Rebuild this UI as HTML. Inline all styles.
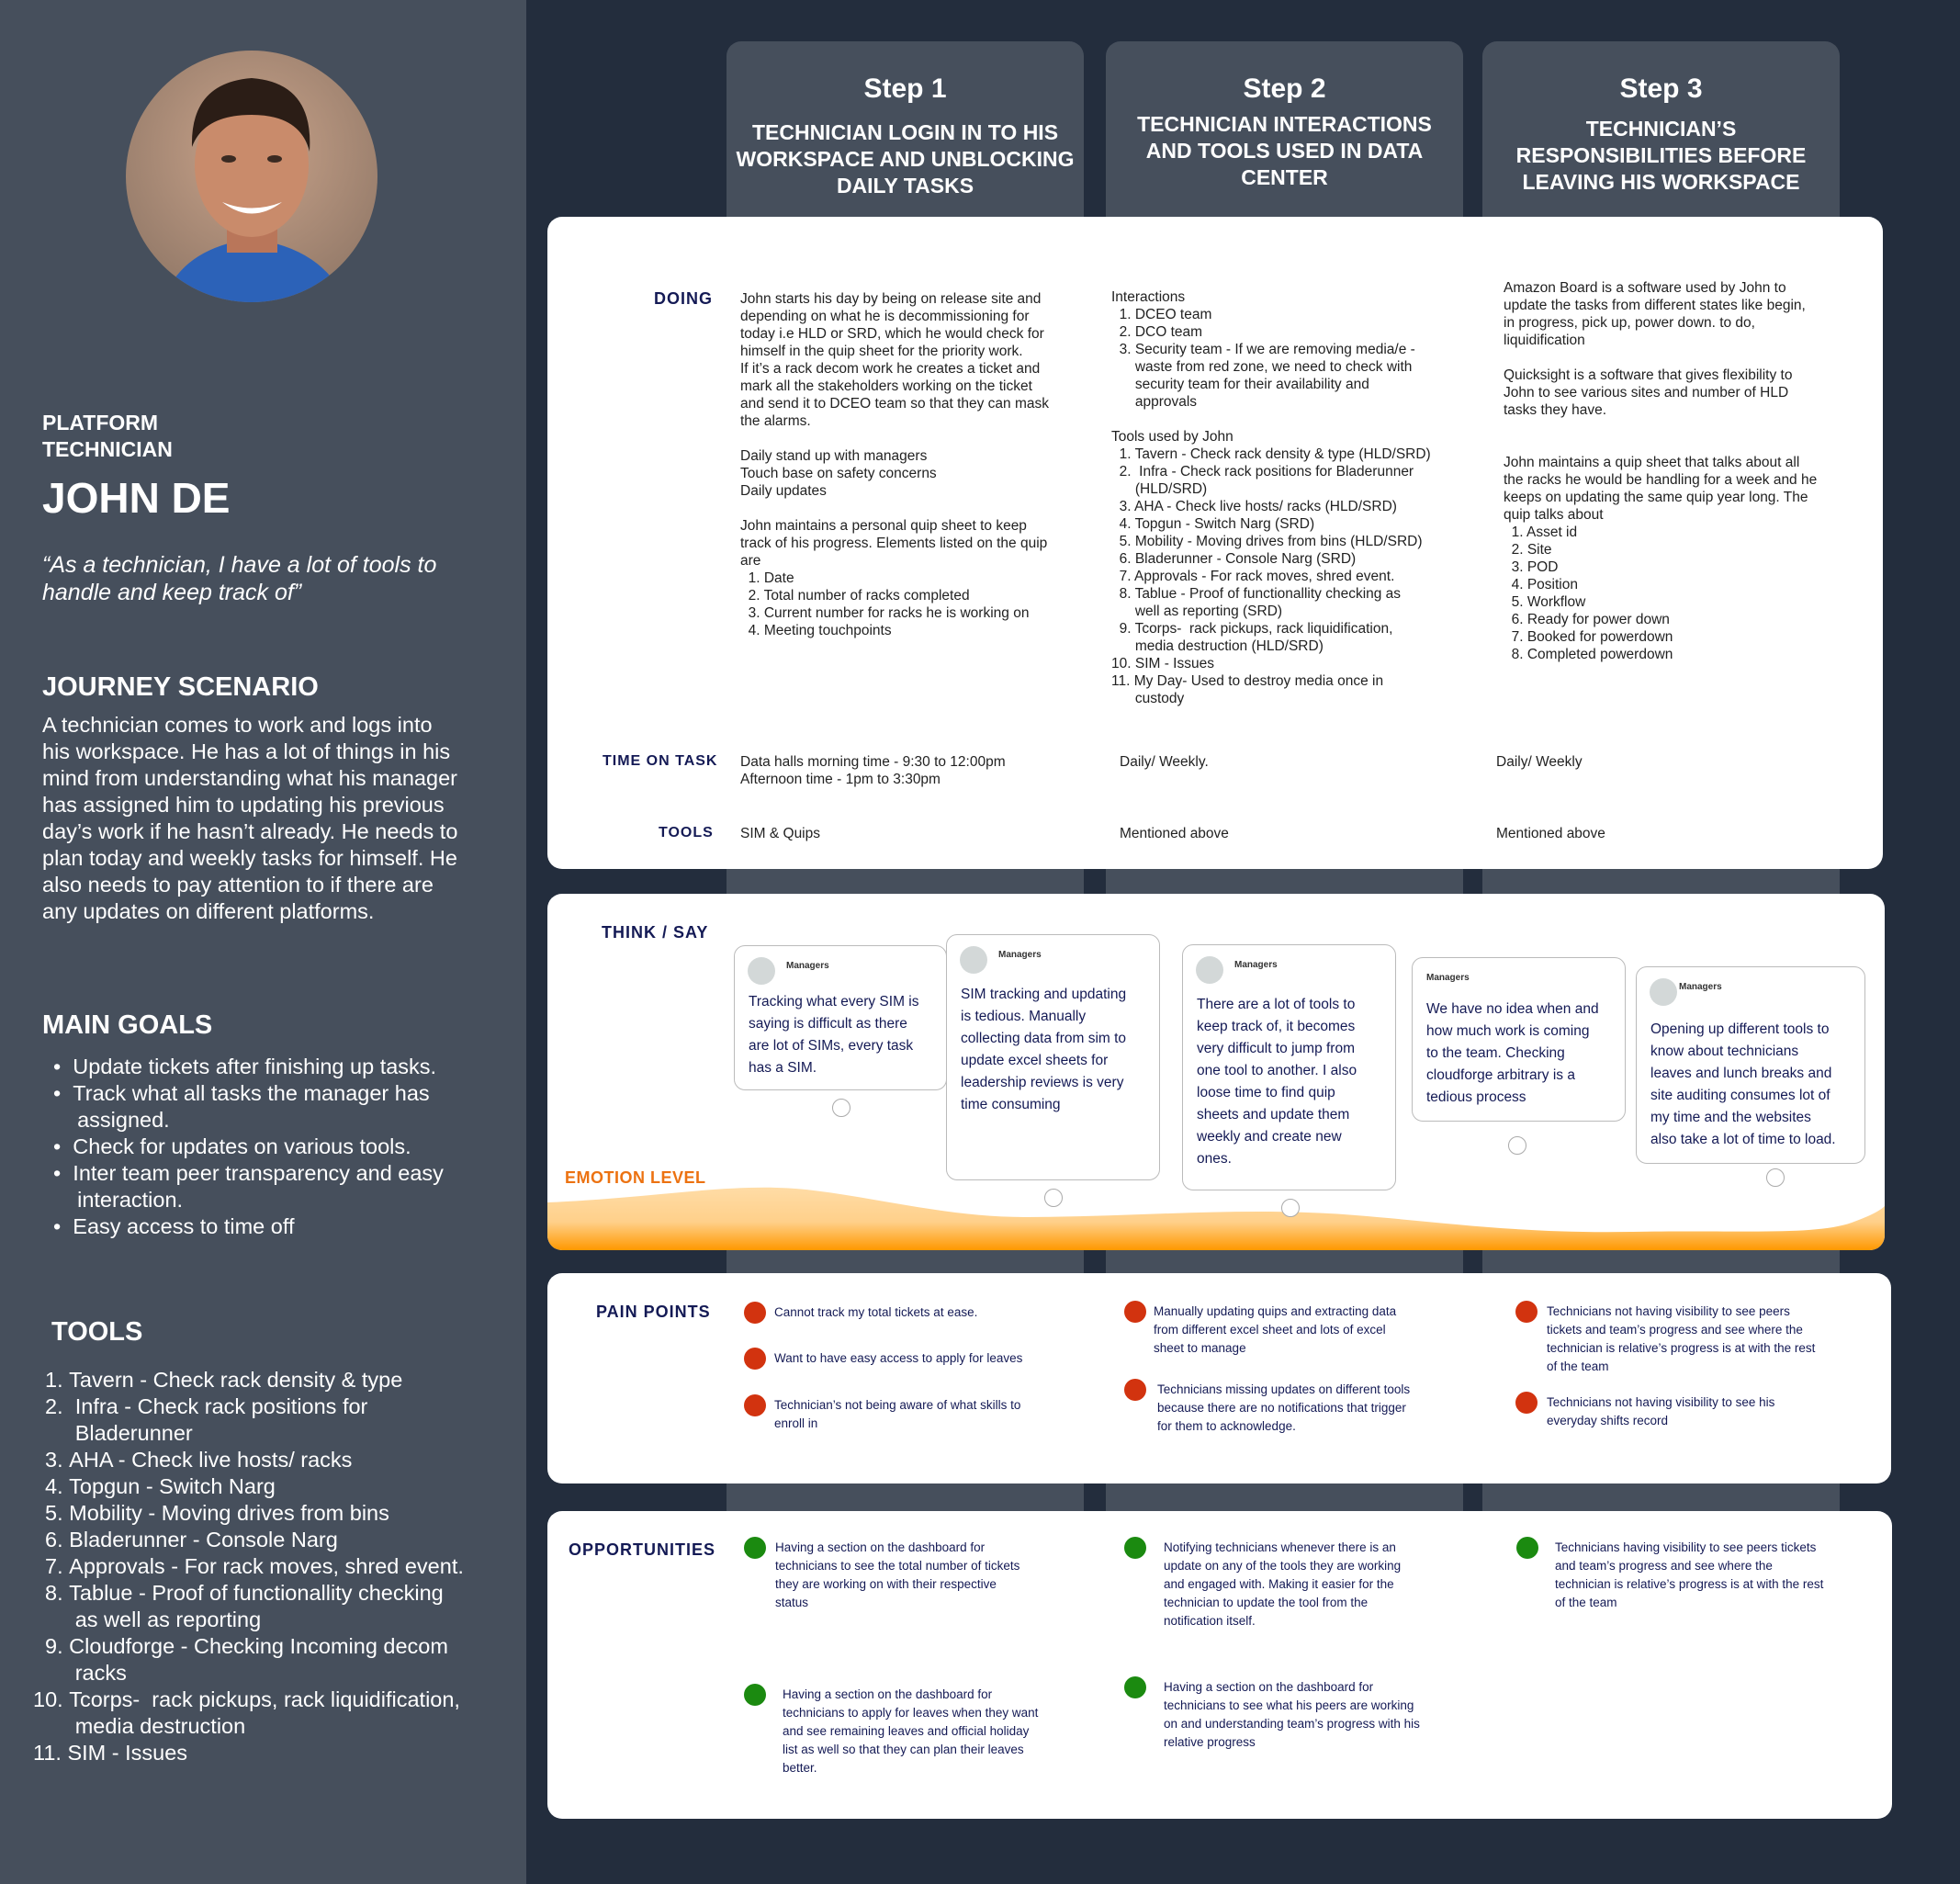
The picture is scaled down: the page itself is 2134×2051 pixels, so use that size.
<!DOCTYPE html>
<html><head><meta charset="utf-8">
<style>
*{margin:0;padding:0;box-sizing:border-box}
body{width:2134px;height:2051px;background:#232d3d;position:relative;overflow:hidden;font-family:"Liberation Sans",sans-serif}
.a{position:absolute;white-space:nowrap}
.lp{position:absolute;left:0;top:0;width:573px;height:2051px;background:#464f5c}
.w{color:#fff}
.step{position:absolute;top:45px;width:389px;height:1935px;background:#464f5c;border-radius:16px 16px 0 0;color:#fff;text-align:center}
.step .h{position:absolute;left:0;right:0;top:78px;font-size:30px;font-weight:bold}
.step .s{position:absolute;left:0;right:0;font-size:23px;font-weight:bold;line-height:29px}
.card{position:absolute;left:596px;background:#fff;border-radius:16px;overflow:hidden}
.lab{position:absolute;color:#141a55;font-weight:bold;font-size:18px;letter-spacing:1px;white-space:nowrap}
.tx{position:absolute;color:#222;font-size:15.5px;line-height:19px;white-space:nowrap}
.sp{position:absolute;border:1.5px solid #bbb;border-radius:12px;background:#fff}
.sp .av{position:absolute;left:14px;top:12px;width:30px;height:30px;border-radius:50%;background:#d3d8d8}
.sp .m{position:absolute;left:56px;top:16px;font-size:10px;font-weight:bold;color:#333}
.sp .q{position:absolute;left:15px;font-size:15.5px;line-height:24px;color:#141a55;white-space:nowrap}
.ring{position:absolute;width:20px;height:20px;border:1.5px solid #aaa;border-radius:50%;background:#fff}
.dot{position:absolute;width:24px;height:24px;border-radius:50%}
.r{background:#d2330f}.g{background:#1b8a10}
.pt{position:absolute;color:#141a55;font-size:13.5px;line-height:20px;white-space:nowrap}
</style></head><body>
<div class="lp"></div>
<!-- photo -->
<svg class="a" style="left:137px;top:55px" width="274" height="274" viewBox="0 0 274 274">
<defs><clipPath id="c"><circle cx="137" cy="137" r="137"/></clipPath>
<radialGradient id="bg" cx="0.5" cy="0.4" r="0.7"><stop offset="0" stop-color="#c9a38a"/><stop offset="1" stop-color="#8d7565"/></radialGradient></defs>
<g clip-path="url(#c)">
<rect width="274" height="274" fill="url(#bg)"/>
<path d="M40 274 Q60 215 137 205 Q215 215 240 274Z" fill="#2c62b8"/>
<rect x="110" y="170" width="55" height="50" fill="#b9765a"/>
<ellipse cx="137" cy="125" rx="62" ry="78" fill="#c98b6b"/>
<path d="M72 105 Q70 35 137 30 Q205 35 200 110 Q190 70 137 70 Q85 70 72 105Z" fill="#2b1d16"/>
<path d="M105 165 Q137 190 170 165 Q137 178 105 165Z" fill="#fff"/>
<ellipse cx="112" cy="118" rx="8" ry="4" fill="#3a2a22"/><ellipse cx="162" cy="118" rx="8" ry="4" fill="#3a2a22"/>
</g></svg>
<div class="a w" style="left:46px;top:446px;font-size:23px;font-weight:bold;line-height:29px">PLATFORM<br>TECHNICIAN</div>
<div class="a w" style="left:46px;top:515px;font-size:46px;font-weight:bold">JOHN DE</div>
<div class="a w" style="left:46px;top:600px;font-size:25px;font-style:italic;line-height:30px">“As a technician, I have a lot of tools to<br>handle and keep track of”</div>
<div class="a w" style="left:46px;top:732px;font-size:29px;font-weight:bold">JOURNEY SCENARIO</div>
<div class="a w" style="left:46px;top:775px;font-size:23.5px;line-height:29px">A technician comes to work and logs into<br>his workspace. He has a lot of things in his<br>mind from understanding what his manager<br>has assigned him to updating his previous<br>day’s work if he hasn’t already. He needs to<br>plan today and weekly tasks for himself. He<br>also needs to pay attention to if there are<br>any updates on different platforms.</div>
<div class="a w" style="left:46px;top:1100px;font-size:29px;font-weight:bold">MAIN GOALS</div>
<div class="a w" style="left:58px;top:1147px;font-size:23.5px;line-height:29px">•&nbsp;&nbsp;Update tickets after finishing up tasks.<br>•&nbsp;&nbsp;Track what all tasks the manager has<br>&nbsp;&nbsp;&nbsp;&nbsp;assigned.<br>•&nbsp;&nbsp;Check for updates on various tools.<br>•&nbsp;&nbsp;Inter team peer transparency and easy<br>&nbsp;&nbsp;&nbsp;&nbsp;interaction.<br>•&nbsp;&nbsp;Easy access to time off</div>
<div class="a w" style="left:56px;top:1434px;font-size:29px;font-weight:bold">TOOLS</div>
<div class="a w" style="left:36px;top:1488px;font-size:23.5px;line-height:29px">&nbsp;&nbsp;1.&nbsp;Tavern - Check rack density &amp; type<br>&nbsp;&nbsp;2.&nbsp;&nbsp;Infra - Check rack positions for<br>&nbsp;&nbsp;&nbsp;&nbsp;&nbsp;&nbsp;&nbsp;Bladerunner<br>&nbsp;&nbsp;3.&nbsp;AHA - Check live hosts/ racks<br>&nbsp;&nbsp;4.&nbsp;Topgun - Switch Narg<br>&nbsp;&nbsp;5.&nbsp;Mobility - Moving drives from bins<br>&nbsp;&nbsp;6.&nbsp;Bladerunner - Console Narg<br>&nbsp;&nbsp;7.&nbsp;Approvals - For rack moves, shred event.<br>&nbsp;&nbsp;8.&nbsp;Tablue - Proof of functionallity checking<br>&nbsp;&nbsp;&nbsp;&nbsp;&nbsp;&nbsp;&nbsp;as well as reporting<br>&nbsp;&nbsp;9.&nbsp;Cloudforge - Checking Incoming decom<br>&nbsp;&nbsp;&nbsp;&nbsp;&nbsp;&nbsp;&nbsp;racks<br>10.&nbsp;Tcorps-&nbsp; rack pickups, rack liquidification,<br>&nbsp;&nbsp;&nbsp;&nbsp;&nbsp;&nbsp;&nbsp;media destruction<br>11.&nbsp;SIM - Issues</div>

<!-- steps -->
<div class="step" style="left:791px"><div class="h" style="top:35px">Step 1</div><div class="s" style="top:85px">TECHNICIAN LOGIN IN TO HIS<br>WORKSPACE AND UNBLOCKING<br>DAILY TASKS</div></div>
<div class="step" style="left:1204px"><div class="h" style="top:35px">Step 2</div><div class="s" style="top:76px">TECHNICIAN INTERACTIONS<br>AND TOOLS USED IN DATA<br>CENTER</div></div>
<div class="step" style="left:1614px"><div class="h" style="top:35px">Step 3</div><div class="s" style="top:81px">TECHNICIAN’S<br>RESPONSIBILITIES BEFORE<br>LEAVING HIS WORKSPACE</div></div>

<!-- card 1 -->
<div class="card" style="top:236px;width:1454px;height:710px"></div>
<div class="lab" style="left:712px;top:315px">DOING</div>
<div class="tx" style="left:806px;top:316px">John starts his day by being on release site and<br>depending on what he is decommissioning for<br>today i.e HLD or SRD, which he would check for<br>himself in the quip sheet for the priority work.<br>If it’s a rack decom work he creates a ticket and<br>mark all the stakeholders working on the ticket<br>and send it to DCEO team so that they can mask<br>the alarms.<br><br>Daily stand up with managers<br>Touch base on safety concerns<br>Daily updates<br><br>John maintains a personal quip sheet to keep<br>track of his progress. Elements listed on the quip<br>are<br>&nbsp;&nbsp;1. Date<br>&nbsp;&nbsp;2. Total number of racks completed<br>&nbsp;&nbsp;3. Current number for racks he is working on<br>&nbsp;&nbsp;4. Meeting touchpoints</div>
<div class="tx" style="left:1210px;top:314px">Interactions<br>&nbsp;&nbsp;1. DCEO team<br>&nbsp;&nbsp;2. DCO team<br>&nbsp;&nbsp;3. Security team - If we are removing media/e -<br>&nbsp;&nbsp;&nbsp;&nbsp;&nbsp;&nbsp;waste from red zone, we need to check with<br>&nbsp;&nbsp;&nbsp;&nbsp;&nbsp;&nbsp;security team for their availability and<br>&nbsp;&nbsp;&nbsp;&nbsp;&nbsp;&nbsp;approvals<br><br>Tools used by John<br>&nbsp;&nbsp;1. Tavern - Check rack density &amp; type (HLD/SRD)<br>&nbsp;&nbsp;2.&nbsp; Infra - Check rack positions for Bladerunner<br>&nbsp;&nbsp;&nbsp;&nbsp;&nbsp;&nbsp;(HLD/SRD)<br>&nbsp;&nbsp;3. AHA - Check live hosts/ racks (HLD/SRD)<br>&nbsp;&nbsp;4. Topgun - Switch Narg (SRD)<br>&nbsp;&nbsp;5. Mobility - Moving drives from bins (HLD/SRD)<br>&nbsp;&nbsp;6. Bladerunner - Console Narg (SRD)<br>&nbsp;&nbsp;7. Approvals - For rack moves, shred event.<br>&nbsp;&nbsp;8. Tablue - Proof of functionallity checking as<br>&nbsp;&nbsp;&nbsp;&nbsp;&nbsp;&nbsp;well as reporting (SRD)<br>&nbsp;&nbsp;9. Tcorps-&nbsp; rack pickups, rack liquidification,<br>&nbsp;&nbsp;&nbsp;&nbsp;&nbsp;&nbsp;media destruction (HLD/SRD)<br>10. SIM - Issues<br>11. My Day- Used to destroy media once in<br>&nbsp;&nbsp;&nbsp;&nbsp;&nbsp;&nbsp;custody</div>
<div class="tx" style="left:1637px;top:304px">Amazon Board is a software used by John to<br>update the tasks from different states like begin,<br>in progress, pick up, power down. to do,<br>liquidification<br><br>Quicksight is a software that gives flexibility to<br>John to see various sites and number of HLD<br>tasks they have.<br><br><br>John maintains a quip sheet that talks about all<br>the racks he would be handling for a week and he<br>keeps on updating the same quip year long. The<br>quip talks about<br>&nbsp;&nbsp;1. Asset id<br>&nbsp;&nbsp;2. Site<br>&nbsp;&nbsp;3. POD<br>&nbsp;&nbsp;4. Position<br>&nbsp;&nbsp;5. Workflow<br>&nbsp;&nbsp;6. Ready for power down<br>&nbsp;&nbsp;7. Booked for powerdown<br>&nbsp;&nbsp;8. Completed powerdown</div>
<div class="lab" style="left:656px;top:820px;font-size:16px">TIME ON TASK</div>
<div class="tx" style="left:806px;top:820px">Data halls morning time - 9:30 to 12:00pm<br>Afternoon time - 1pm to 3:30pm</div>
<div class="tx" style="left:1219px;top:820px">Daily/ Weekly.</div>
<div class="tx" style="left:1629px;top:820px">Daily/ Weekly</div>
<div class="lab" style="left:717px;top:898px;font-size:16px">TOOLS</div>
<div class="tx" style="left:806px;top:898px">SIM &amp; Quips</div>
<div class="tx" style="left:1219px;top:898px">Mentioned above</div>
<div class="tx" style="left:1629px;top:898px">Mentioned above</div>

<!-- card 2 -->
<div class="card" style="top:973px;width:1456px;height:388px">
<svg style="position:absolute;left:0;top:0" width="1456" height="388">
<defs><linearGradient id="og" x1="0" y1="0" x2="0" y2="1"><stop offset="0" stop-color="#ffdca6"/><stop offset="0.55" stop-color="#ffd08a"/><stop offset="1" stop-color="#ff9800"/></linearGradient></defs>
<path d="M0 336 C100 332 180 318 250 320 C330 322 420 352 520 352 C640 352 760 340 880 350 C980 358 1060 370 1180 368 C1300 366 1380 372 1420 358 Q1448 348 1456 340 L1456 388 L0 388Z" fill="url(#og)"/>
</svg></div>
<div class="lab" style="left:655px;top:1005px">THINK / SAY</div>
<div class="a" style="left:615px;top:1272px;color:#ec7211;font-weight:bold;font-size:18px;letter-spacing:0.5px">EMOTION LEVEL</div>

<div class="sp" style="left:799px;top:1029px;width:232px;height:158px"><div class="av"></div><div class="m">Managers</div><div class="q" style="top:49px">Tracking what every SIM is<br>saying is difficult as there<br>are lot of SIMs, every task<br>has a SIM.</div></div>
<div class="ring" style="left:906px;top:1196px"></div>
<div class="sp" style="left:1030px;top:1017px;width:233px;height:268px"><div class="av"></div><div class="m">Managers</div><div class="q" style="top:53px">SIM tracking and updating<br>is tedious. Manually<br>collecting data from sim to<br>update excel sheets for<br>leadership reviews is very<br>time consuming</div></div>
<div class="ring" style="left:1137px;top:1294px"></div>
<div class="sp" style="left:1287px;top:1028px;width:233px;height:268px"><div class="av"></div><div class="m">Managers</div><div class="q" style="top:53px">There are a lot of tools to<br>keep track of, it becomes<br>very difficult to jump from<br>one tool to another. I also<br>loose time to find quip<br>sheets and update them<br>weekly and create new<br>ones.</div></div>
<div class="ring" style="left:1395px;top:1305px"></div>
<div class="sp" style="left:1537px;top:1042px;width:233px;height:179px"><div class="m" style="left:15px">Managers</div><div class="q" style="top:44px">We have no idea when and<br>how much work is coming<br>to the team. Checking<br>cloudforge arbitrary is a<br>tedious process</div></div>
<div class="ring" style="left:1642px;top:1237px"></div>
<div class="sp" style="left:1781px;top:1052px;width:250px;height:215px"><div class="av"></div><div class="m" style="left:46px">Managers</div><div class="q" style="top:56px">Opening up different tools to<br>know about technicians<br>leaves and lunch breaks and<br>site auditing consumes lot of<br>my time and the websites<br>also take a lot of time to load.</div></div>
<div class="ring" style="left:1923px;top:1272px"></div>

<!-- pain points -->
<div class="card" style="top:1386px;width:1463px;height:229px"></div>
<div class="lab" style="left:649px;top:1418px">PAIN POINTS</div>
<div class="dot r" style="left:810px;top:1417px"></div><div class="pt" style="left:843px;top:1419px">Cannot track my total tickets at ease.</div>
<div class="dot r" style="left:810px;top:1467px"></div><div class="pt" style="left:843px;top:1469px">Want to have easy access to apply for leaves</div>
<div class="dot r" style="left:810px;top:1518px"></div><div class="pt" style="left:843px;top:1520px">Technician’s not being aware of what skills to<br>enroll in</div>
<div class="dot r" style="left:1224px;top:1416px"></div><div class="pt" style="left:1256px;top:1418px">Manually updating quips and extracting data<br>from different excel sheet and lots of excel<br>sheet to manage</div>
<div class="dot r" style="left:1224px;top:1501px"></div><div class="pt" style="left:1260px;top:1503px">Technicians missing updates on different tools<br>because there are no notifications that trigger<br>for them to acknowledge.</div>
<div class="dot r" style="left:1650px;top:1416px"></div><div class="pt" style="left:1684px;top:1418px">Technicians not having visibility to see peers<br>tickets and team’s progress and see where the<br>technician is relative’s progress is at with the rest<br>of the team</div>
<div class="dot r" style="left:1650px;top:1515px"></div><div class="pt" style="left:1684px;top:1517px">Technicians not having visibility to see his<br>everyday shifts record</div>

<!-- opportunities -->
<div class="card" style="top:1645px;width:1464px;height:335px"></div>
<div class="lab" style="left:619px;top:1677px">OPPORTUNITIES</div>
<div class="dot g" style="left:810px;top:1673px"></div><div class="pt" style="left:844px;top:1675px">Having a section on the dashboard for<br>technicians to see the total number of tickets<br>they are working on with their respective<br>status</div>
<div class="dot g" style="left:810px;top:1833px"></div><div class="pt" style="left:852px;top:1835px">Having a section on the dashboard for<br>technicians to apply for leaves when they want<br>and see remaining leaves and official holiday<br>list as well so that they can plan their leaves<br>better.</div>
<div class="dot g" style="left:1224px;top:1673px"></div><div class="pt" style="left:1267px;top:1675px">Notifying technicians whenever there is an<br>update on any of the tools they are working<br>and engaged with. Making it easier for the<br>technician to update the tool from the<br>notification itself.</div>
<div class="dot g" style="left:1224px;top:1825px"></div><div class="pt" style="left:1267px;top:1827px">Having a section on the dashboard for<br>technicians to see what his peers are working<br>on and understanding team’s progress with his<br>relative progress</div>
<div class="dot g" style="left:1651px;top:1673px"></div><div class="pt" style="left:1693px;top:1675px">Technicians having visibility to see peers tickets<br>and team’s progress and see where the<br>technician is relative’s progress is at with the rest<br>of the team</div>
</body></html>
